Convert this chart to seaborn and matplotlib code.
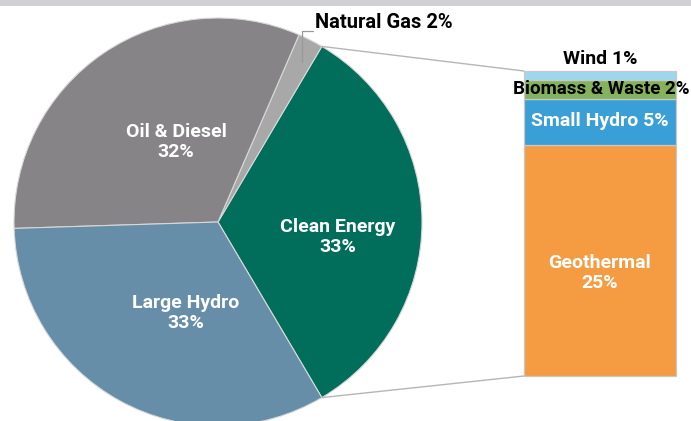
import matplotlib
matplotlib.use("Agg")
import matplotlib.pyplot as plt
import seaborn as sns
import numpy as np

# ---- data ----
pie_labels = ["Clean Energy", "Natural Gas", "Oil & Diesel", "Large Hydro"]
pie_values = [33, 2, 32, 33]
pie_colors = ["#016e5b", "#a9a8a9", "#868486", "#668ea9"]

clean_labels = ["Geothermal", "Small Hydro", "Biomass & Waste", "Wind"]
clean_values = [25, 5, 2, 1]
clean_colors = ["#f59c42", "#3a9fd7", "#84b35b", "#9dd7ee"]

sns.set_theme(style="white")
plt.rcParams['font.family'] = ['Roboto', 'DejaVu Sans']

W, H = 691, 421
fig = plt.figure(figsize=(W / 100, H / 100), dpi=100)
ax = fig.add_axes([0, 0, 1, 1])

# top band
ax.add_patch(plt.Rectangle((0, H - 6), W, 6, color="#d1d1d3", lw=0, zorder=0))

cx, cy, r = 218, H - 222, 204
start = -pie_values[0] / 100 * 360 / 2
wedges, _ = ax.pie(pie_values, colors=pie_colors, startangle=start, counterclock=True,
                   center=(cx, cy), radius=r, frame=True,
                   wedgeprops=dict(edgecolor="#d8d8d8", linewidth=0.8))
ax.set_xlim(0, W)
ax.set_ylim(0, H)
ax.set_aspect("equal")
ax.axis("off")

fs = 14
txt = dict(fontsize=fs, fontweight="bold", ha="center", va="center", linespacing=1.15)
ax.text(338, H - 237, "Clean Energy\n33%", color="white", **txt)
ax.text(176, H - 142, "Oil & Diesel\n32%", color="white", **txt)
ax.text(186, H - 313, "Large Hydro\n33%", color="white", **txt)
ax.text(315, H - 22, "Natural Gas 2%", color="black", fontsize=14.5, fontweight="bold",
        ha="left", va="center")
ax.plot([302, 302, 313], [H - 62, H - 31, H - 31], color="#999999", lw=0.9)

# stacked bar for clean energy breakdown
bx, bw = 600, 152
bottom_y = H - 376
scale = 305 / sum(clean_values)
b = bottom_y
tops = []
for lab, v, c in zip(clean_labels, clean_values, clean_colors):
    ax.bar(bx, v * scale, bottom=b, width=bw, color=c, edgecolor="#c8c8c8", linewidth=0.9)
    tops.append((b, b + v * scale))
    b += v * scale
top_y = b

# connector lines
a1 = np.deg2rad(start + pie_values[0] / 100 * 360)
a0 = np.deg2rad(start)
ax.plot([cx + r * np.cos(a1), bx - bw / 2], [cy + r * np.sin(a1), top_y], color="#b5b5b5", lw=1)
ax.plot([cx + r * np.cos(a0), bx - bw / 2], [cy + r * np.sin(a0), bottom_y], color="#b5b5b5", lw=1)

ax.text(bx, H - 273, "Geothermal\n25%", color="white", **txt)
ax.text(bx, (tops[1][0] + tops[1][1]) / 2 + 1, "Small Hydro 5%", color="white", **txt)
ax.text(601, (tops[2][0] + tops[2][1]) / 2, "Biomass & Waste 2%", color="black",
        fontsize=13.5, fontweight="bold", ha="center", va="center")
ax.text(bx, H - 59, "Wind 1%", color="black", **txt)

fig.savefig("out.png", dpi=100)
